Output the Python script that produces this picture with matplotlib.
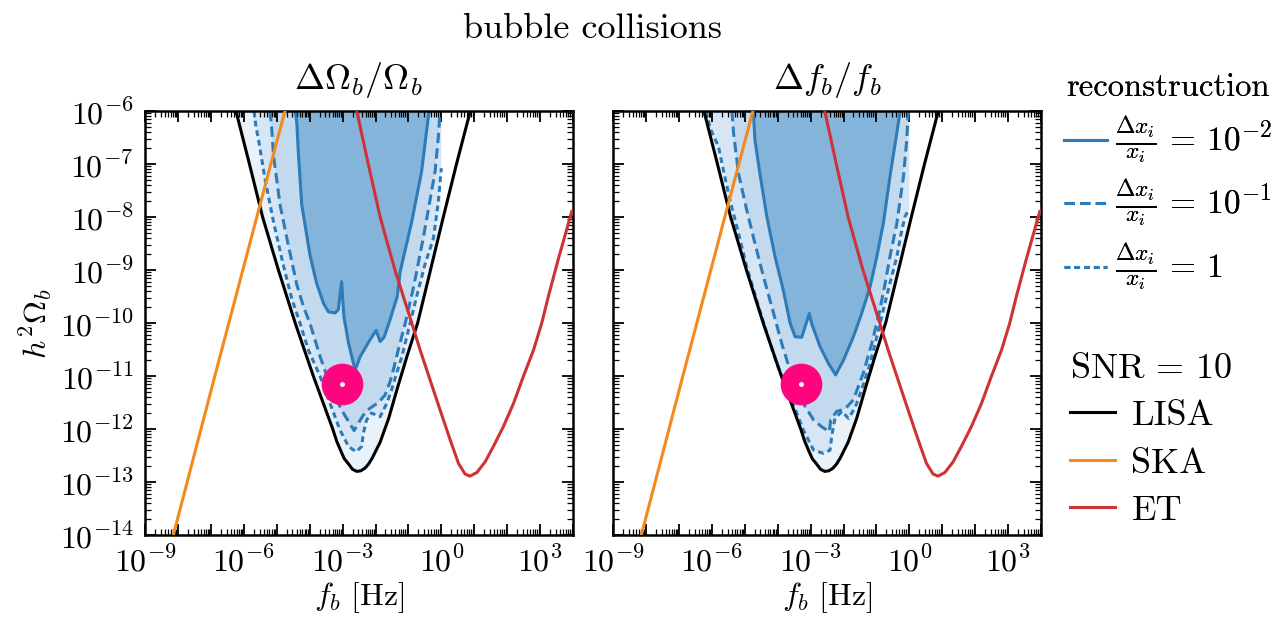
import matplotlib
matplotlib.use('Agg')
import matplotlib.pyplot as plt
import numpy as np
from matplotlib.patches import Rectangle
from matplotlib.lines import Line2D
from matplotlib.ticker import FixedLocator, FuncFormatter, LogLocator, NullFormatter

plt.rcParams['font.family'] = 'serif'
plt.rcParams['font.serif'] = ['cmr10']
plt.rcParams['mathtext.fontset'] = 'cm'
plt.rcParams['axes.formatter.use_mathtext'] = True

FS = 23       # ticks and axis labels
FS_T = 26     # titles and detector legend

# power-law sensitivity curves, SNR = 10 (log10 f [Hz], log10 h^2 Omega)
lisa_lf = [-6.24, -5.83, -5.43, -4.95, -4.44, -3.89, -3.30, -3.18, -3.05, -2.95,
           -2.82, -2.70, -2.57, -2.45, -2.32, -2.21, -2.10, -1.86, -1.60, -1.35,
           -1.04, -0.72, -0.33, 0.06, 0.46, 0.88]
lisa_lo = [-6.0, -7.0, -8.0, -9.0, -10.0, -11.0, -12.0, -12.23, -12.42, -12.56,
           -12.66, -12.76, -12.80, -12.79, -12.74, -12.66, -12.55, -12.25, -11.80, -11.26,
           -10.62, -10.0, -9.0, -8.0, -7.0, -6.0]

ska_lf = [-8.14, -7.72, -6.88, -5.52, -4.75]
ska_lo = [-14.0, -13.0, -11.0, -7.8, -6.0]

et_lf = [-2.57, -2.22, -1.86, -1.41, -0.90, -0.64, -0.34, -0.04, 0.27, 0.52,
         0.72, 0.87, 1.08, 1.33, 1.58, 1.88, 2.19, 2.49, 2.80, 3.05,
         3.25, 3.55, 3.96]
et_lo = [-6.0, -7.0, -8.0, -9.0, -10.0, -10.52, -11.08, -11.64, -12.21, -12.65,
         -12.85, -12.89, -12.82, -12.62, -12.33, -11.96, -11.52, -11.01, -10.51, -10.0,
         -9.5, -8.8, -7.9]

# reconstruction contours for Delta Omega_b / Omega_b
om_sol_lf = [-4.44, -4.39, -4.34, -4.24, -3.99, -3.79, -3.58, -3.43, -3.23, -3.13,
             -3.03, -2.96, -2.82, -2.62, -2.47, -2.17, -1.98, -1.86, -1.74, -1.56,
             -1.34, -1.25, -0.90, -0.60, -0.39, -0.36]
om_sol_lo = [-6.0, -6.23, -6.83, -7.77, -8.72, -9.25, -9.63, -9.79, -9.81, -9.75,
             -9.22, -9.88, -10.38, -10.89, -10.64, -10.32, -10.14, -10.35, -10.27, -9.94,
             -9.50, -9.03, -8.09, -7.14, -6.08, -6.0]

om_dash_lf = [-5.20, -5.15, -5.10, -4.90, -4.65, -4.39, -4.19, -3.99, -3.68, -3.33,
              -3.03, -2.82, -2.65, -2.52, -2.37, -2.17, -1.91, -1.71, -1.56, -1.46,
              -1.31, -1.10, -0.85, -0.55, -0.19, -0.09, -0.04]
om_dash_lo = [-6.0, -6.36, -6.83, -7.77, -8.53, -9.28, -9.69, -10.01, -10.64, -11.26,
              -11.64, -11.86, -12.03, -11.89, -11.74, -11.61, -11.50, -11.36, -11.11, -10.89,
              -10.51, -10.01, -9.34, -8.40, -7.14, -6.48, -6.0]

om_dot_lf = [-5.69, -5.63, -5.56, -5.36, -5.10, -4.80, -4.55, -4.29, -4.04, -3.68,
             -3.38, -3.08, -2.82, -2.59, -2.42, -2.37, -2.27, -2.12, -1.86, -1.66,
             -1.51, -1.36, -1.20, -1.05, -0.90, -0.75, -0.50, -0.24, -0.10, 0.0]
om_dot_lo = [-6.0, -6.3, -6.52, -7.27, -8.09, -8.91, -9.53, -10.01, -10.51, -11.01,
             -11.52, -12.02, -12.33, -12.43, -12.33, -12.08, -11.83, -11.70, -11.77, -11.52,
             -11.26, -10.95, -10.64, -10.26, -9.88, -9.50, -8.90, -8.40, -7.75, -7.08]

# reconstruction contours for Delta f_b / f_b
fb_sol_lf = [-4.74, -4.69, -4.54, -4.33, -4.08, -3.83, -3.62, -3.47, -3.27, -3.04,
             -2.97, -2.71, -2.46, -2.24, -2.00, -1.70, -1.45, -1.19, -0.99, -0.79,
             -0.59, -0.43, -0.28]
fb_sol_lo = [-6.0, -6.55, -7.18, -7.99, -8.75, -9.38, -10.01, -10.26, -10.27, -9.82,
             -10.01, -10.45, -10.76, -10.98, -10.70, -10.26, -9.82, -9.31, -8.75, -8.12,
             -7.24, -6.61, -6.0]

fb_dash_lf = [-5.39, -5.34, -5.19, -4.94, -4.69, -4.43, -4.18, -3.88, -3.57, -3.22,
              -2.91, -2.66, -2.43, -2.39, -2.21, -1.95, -1.70, -1.40, -1.14, -0.94,
              -0.75, -0.59, -0.38, -0.18, -0.08, -0.03]
fb_dash_lo = [-6.0, -6.42, -7.18, -7.87, -8.50, -9.13, -9.69, -10.38, -11.01, -11.52,
              -11.83, -11.96, -12.05, -11.83, -11.67, -11.62, -11.45, -10.95, -10.38, -9.88,
              -9.30, -8.75, -8.12, -7.24, -6.55, -6.0]

fb_dot_lf = [-6.18, -6.05, -5.80, -5.62, -5.45, -5.19, -4.94, -4.64, -4.33, -4.03,
             -3.62, -3.22, -2.91, -2.61, -2.41, -2.36, -2.26, -2.05, -1.85, -1.65,
             -1.45, -1.19, -0.99, -0.79, -0.59, -0.38, -0.23, -0.13, -0.03]
fb_dot_lo = [-6.0, -6.33, -6.67, -7.2, -7.68, -8.31, -8.94, -9.57, -10.19, -10.76,
             -11.39, -12.02, -12.40, -12.46, -12.40, -12.14, -11.80, -11.67, -11.80, -11.60,
             -11.26, -10.76, -10.26, -9.75, -9.25, -8.75, -8.25, -7.99, -7.87]

# benchmark point
bench_lf = [-3.03, -3.29]
bench_lo = [-11.16, -11.16]

titles = [r'$\Delta\Omega_b/\Omega_b$', r'$\Delta f_b/f_b$']
recon_labels = [r'$\frac{\Delta x_i}{x_i} \,=\, 10^{-2}$',
                r'$\frac{\Delta x_i}{x_i} \,=\, 10^{-1}$',
                r'$\frac{\Delta x_i}{x_i} \,=\, 1$']
det_labels = ['LISA', 'SKA', 'ET']

blue = '#2d7bb9'
orange = '#f28a1f'
red = '#cf3234'
c_lisa = '#e9f1f9'
c_dot = '#d6e6f4'
c_dash = '#c3d9ee'
c_sol = '#85b4da'
ls_dash = (0, (3.4, 1.7))
ls_dot = (0, (1.9, 1.3))
LW = 2.2


def p10(a):
    return np.power(10.0, np.asarray(a, dtype=float))


fig = plt.figure(figsize=(12.78, 6.23), dpi=100)
ax1 = fig.add_axes([0.1135, 0.1413, 0.3349, 0.6806])
ax2 = fig.add_axes([0.4797, 0.1413, 0.3349, 0.6806])

panels = [(ax1, om_sol_lf, om_sol_lo, om_dash_lf, om_dash_lo, om_dot_lf, om_dot_lo),
          (ax2, fb_sol_lf, fb_sol_lo, fb_dash_lf, fb_dash_lo, fb_dot_lf, fb_dot_lo)]

for i, (ax, slf, slo, dlf, dlo, tlf, tlo) in enumerate(panels):
    ax.set_xscale('log')
    ax.set_yscale('log')
    ax.set_xlim(1e-9, 1e4)
    ax.set_ylim(1e-14, 1e-6)

    # region covered by the reconstruction grid (f <= 1 Hz)
    grid = Rectangle((1e-9, 1e-14), 1.0 - 1e-9, 1e-6 - 1e-14, transform=ax.transData)
    patch = ax.fill(p10(lisa_lf), p10(lisa_lo), color=c_lisa, lw=0, zorder=1)[0]
    patch.set_clip_path(grid)

    ax.fill(p10(np.r_[tlf, 0.0, 0.0]), p10(np.r_[tlo, tlo[-1], -6.0]), color=c_dot, lw=0, zorder=1.1)
    ax.fill(p10(dlf), p10(dlo), color=c_dash, lw=0, zorder=1.2)
    ax.fill(p10(slf), p10(slo), color=c_sol, lw=0, zorder=1.3)

    ax.plot(p10(tlf), p10(tlo), color=blue, lw=LW, ls=ls_dot, zorder=2)
    ax.plot(p10(dlf), p10(dlo), color=blue, lw=LW, ls=ls_dash, zorder=2)
    ax.plot(p10(slf), p10(slo), color=blue, lw=LW, zorder=2)

    ax.plot(p10(lisa_lf), p10(lisa_lo), color='black', lw=LW, zorder=3)
    ax.plot(p10(ska_lf), p10(ska_lo), color=orange, lw=LW, zorder=3)
    ax.plot(p10(et_lf), p10(et_lo), color=red, lw=LW, zorder=3)

    ax.plot(10 ** bench_lf[i], 10 ** bench_lo[i], 'o', color='#ff047f', ms=30, mew=0, zorder=5)
    ax.plot(10 ** bench_lf[i], 10 ** bench_lo[i], 'o', color='white', ms=3.5, mew=0, zorder=6)

    ax.xaxis.set_major_locator(FixedLocator(p10(np.arange(-9, 5))))
    ax.xaxis.set_major_formatter(FuncFormatter(
        lambda v, pos: r'$10^{%d}$' % round(np.log10(v)) if round(np.log10(v)) % 3 == 0 else ''))
    ax.xaxis.set_minor_locator(LogLocator(base=10, subs=np.arange(2, 10), numticks=100))
    ax.xaxis.set_minor_formatter(NullFormatter())
    ax.yaxis.set_major_locator(FixedLocator(p10(np.arange(-14, -5))))
    ax.yaxis.set_major_formatter(FuncFormatter(lambda v, pos: r'$10^{%d}$' % round(np.log10(v))))
    ax.yaxis.set_minor_locator(LogLocator(base=10, subs=np.arange(2, 10), numticks=100))
    ax.yaxis.set_minor_formatter(NullFormatter())

    ax.tick_params(which='both', direction='in', top=True, right=True, labelsize=FS)
    ax.tick_params(which='major', length=8, width=1.3, pad=8)
    ax.tick_params(which='minor', length=4, width=0.9)
    for sp in ax.spines.values():
        sp.set_linewidth(1.8)

    ax.set_title(titles[i], fontsize=FS_T, pad=16)
    ax.set_xlabel(r'$f_b\ [\mathrm{Hz}]$', fontsize=FS, labelpad=2)

ax1.set_ylabel(r'$h^2\Omega_b$', fontsize=FS, labelpad=4)
ax2.tick_params(which='both', labelleft=False)

fig.text(0.464, 0.953, 'bubble collisions', fontsize=FS_T, ha='center', va='center')

recon_handles = [Line2D([], [], color=blue, lw=LW),
                 Line2D([], [], color=blue, lw=LW, ls=ls_dash),
                 Line2D([], [], color=blue, lw=LW, ls=ls_dot)]
leg1 = fig.legend(recon_handles, recon_labels, title='reconstruction',
                  loc='upper left', bbox_to_anchor=(1064 / 1278, 1 - 73 / 623),
                  frameon=False, fontsize=24, title_fontsize=23.5, handlelength=1.3,
                  handletextpad=0.24, labelspacing=0.38, borderpad=0, borderaxespad=0)

det_handles = [Line2D([], [], color='black', lw=LW),
               Line2D([], [], color=orange, lw=LW),
               Line2D([], [], color=red, lw=LW)]
leg2 = fig.legend(det_handles, det_labels, title=r'$\mathrm{SNR} \,=\, 10$',
                  loc='upper left', bbox_to_anchor=(1070 / 1278, 1 - 353 / 623),
                  frameon=False, fontsize=FS_T, title_fontsize=FS_T, handlelength=1.25,
                  handletextpad=0.45, labelspacing=0.42, borderpad=0, borderaxespad=0,
                  alignment='left')
fig.add_artist(leg1)

fig.savefig('out.png', dpi=100)
